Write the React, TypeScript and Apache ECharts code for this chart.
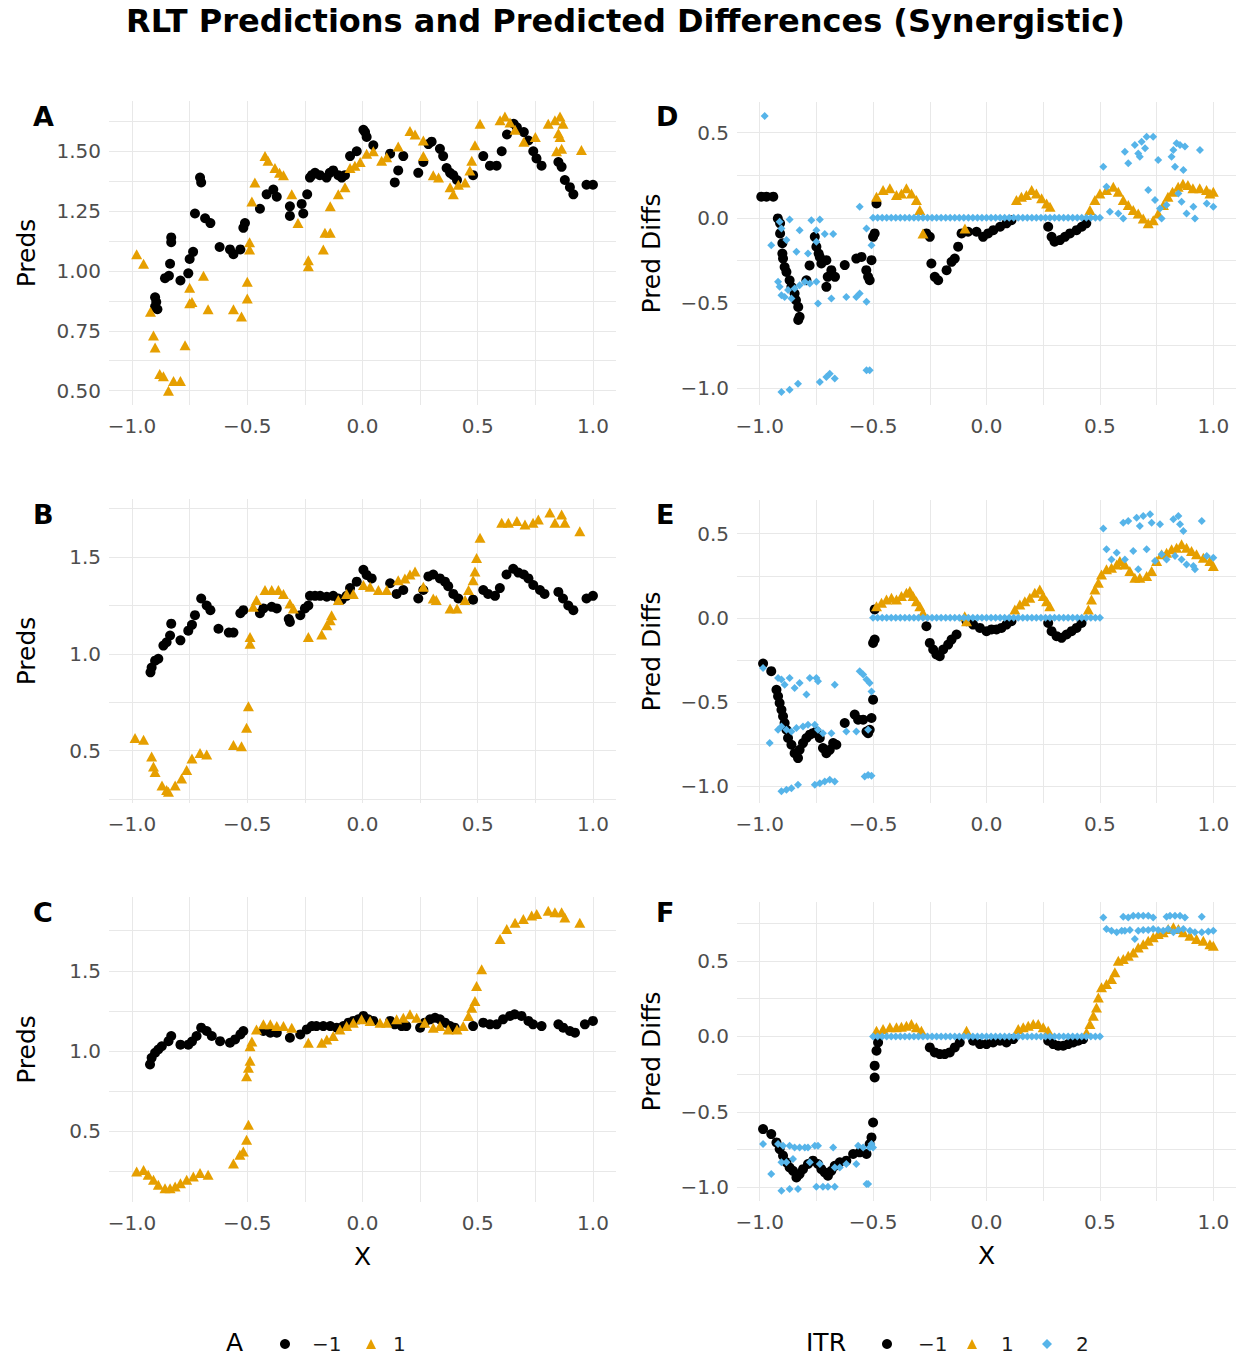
import React, { useEffect, useRef } from "react";
import * as echarts from "echarts";

const FONT = "DejaVu Sans";
const NEG = "\u22121";
const POS = "1";
const TWO = "2";
const BLACK = "#000000";
const ORANGE = "#E69F00";
const BLUE = "#56B4E9";

const xMajor = [-1, -0.5, 0, 0.5, 1];
const xGrid = [-1, -0.75, -0.5, -0.25, 0, 0.25, 0.5, 0.75, 1];
const yMajorA = [0.5, 0.75, 1, 1.25, 1.5];
const yGridA = [0.5, 0.625, 0.75, 0.875, 1, 1.125, 1.25, 1.375, 1.5, 1.625];
const yMajorBC = [0.5, 1, 1.5];
const yGridBC = [0.25, 0.5, 0.75, 1, 1.25, 1.5, 1.75];
const yMajorDiff = [-1, -0.5, 0, 0.5];
const yGridDE = [-1, -0.75, -0.5, -0.25, 0, 0.25, 0.5];
const yGridF = [-1, -0.75, -0.5, -0.25, 0, 0.25, 0.5, 0.75];

// points of ITR = 2 that sit exactly on zero between -0.5 and 0.5
const zeroX = [
  -0.5, -0.48, -0.46, -0.44, -0.42, -0.4, -0.38, -0.36, -0.34, -0.32, -0.3, -0.28, -0.26, -0.24, -0.22, -0.2, -0.18,
  -0.16, -0.14, -0.12, -0.1, -0.08, -0.06, -0.04, -0.02, 0, 0.02, 0.04, 0.06, 0.08, 0.1, 0.12, 0.14, 0.16, 0.18, 0.2,
  0.22, 0.24, 0.26, 0.28, 0.3, 0.32, 0.34, 0.36, 0.38, 0.4, 0.42, 0.44, 0.46, 0.48, 0.5,
];

// Panel A
const predA_neg = [
  [-0.9, 0.89], [-0.895, 0.87], [-0.9, 0.85], [-0.89, 0.84], [-0.857, 0.97], [-0.84, 0.98], [-0.835, 1.03], [-0.83, 1.14],
  [-0.83, 1.12], [-0.79, 0.96], [-0.756, 0.99], [-0.75, 1.05], [-0.735, 1.08], [-0.705, 1.39], [-0.7, 1.37], [-0.727, 1.24],
  [-0.683, 1.22], [-0.66, 1.2], [-0.62, 1.1], [-0.575, 1.09], [-0.56, 1.07], [-0.53, 1.09], [-0.517, 1.18], [-0.51, 1.2],
  [-0.445, 1.26], [-0.416, 1.32], [-0.387, 1.34], [-0.372, 1.31], [-0.315, 1.27], [-0.315, 1.23], [-0.264, 1.28],
  [-0.257, 1.24], [-0.24, 1.32], [-0.228, 1.39], [-0.22, 1.4], [-0.206, 1.41], [-0.185, 1.4], [-0.156, 1.39], [-0.142, 1.41],
  [-0.127, 1.42], [-0.105, 1.4], [-0.09, 1.39], [-0.076, 1.4], [-0.054, 1.48], [-0.025, 1.5], [0.004, 1.59], [0.011, 1.58],
  [0.018, 1.56], [0.047, 1.525], [0.12, 1.49], [0.14, 1.37], [0.155, 1.42], [0.177, 1.48], [0.242, 1.41], [0.264, 1.455],
  [0.286, 1.53], [0.3, 1.54], [0.336, 1.51], [0.35, 1.48], [0.365, 1.43], [0.38, 1.41], [0.394, 1.4], [0.41, 1.38],
  [0.48, 1.4], [0.524, 1.48], [0.553, 1.44], [0.582, 1.44], [0.604, 1.5], [0.627, 1.57], [0.656, 1.615], [0.67, 1.6],
  [0.7, 1.58], [0.72, 1.545], [0.741, 1.5], [0.755, 1.47], [0.777, 1.44], [0.85, 1.455], [0.864, 1.435], [0.878, 1.38],
  [0.9, 1.35], [0.915, 1.32], [0.972, 1.36], [1.0, 1.36],
];
const predA_pos = [
  [-0.98, 1.07], [-0.95, 1.03], [-0.92, 0.83], [-0.907, 0.73], [-0.9, 0.68], [-0.88, 0.57], [-0.864, 0.56], [-0.842, 0.5],
  [-0.82, 0.54], [-0.79, 0.54], [-0.77, 0.69], [-0.75, 0.93], [-0.74, 0.87], [-0.75, 0.865], [-0.69, 0.98], [-0.67, 0.84],
  [-0.56, 0.84], [-0.525, 0.81], [-0.5, 0.955], [-0.5, 0.885], [-0.49, 1.12], [-0.49, 1.09], [-0.48, 1.29], [-0.467, 1.37],
  [-0.423, 1.48], [-0.41, 1.46], [-0.38, 1.43], [-0.36, 1.41], [-0.343, 1.4], [-0.307, 1.32], [-0.28, 1.2], [-0.235, 1.045],
  [-0.235, 1.02], [-0.17, 1.09], [-0.163, 1.16], [-0.14, 1.16], [-0.14, 1.27], [-0.105, 1.32], [-0.076, 1.35], [-0.054, 1.43],
  [-0.033, 1.44], [-0.01, 1.455], [0.018, 1.49], [0.047, 1.5], [0.083, 1.46], [0.105, 1.475], [0.155, 1.52], [0.206, 1.585],
  [0.228, 1.57], [0.264, 1.545], [0.264, 1.48], [0.307, 1.4], [0.33, 1.39], [0.38, 1.35], [0.394, 1.32], [0.416, 1.36],
  [0.445, 1.37], [0.466, 1.42], [0.474, 1.46], [0.488, 1.525], [0.51, 1.615], [0.597, 1.63], [0.618, 1.645], [0.64, 1.62],
  [0.662, 1.59], [0.7, 1.54], [0.75, 1.56], [0.806, 1.615], [0.835, 1.63], [0.857, 1.645], [0.87, 1.615], [0.85, 1.575],
  [0.857, 1.56], [0.842, 1.5], [0.864, 1.51], [0.95, 1.505],
];

// Panel B
const predB_neg = [
  [-0.92, 0.905], [-0.915, 0.93], [-0.9, 0.965], [-0.886, 0.975], [-0.864, 1.043], [-0.85, 1.06], [-0.835, 1.095],
  [-0.83, 1.156], [-0.79, 1.07], [-0.756, 1.12], [-0.74, 1.15], [-0.727, 1.2], [-0.7, 1.286], [-0.676, 1.25], [-0.66, 1.226],
  [-0.625, 1.13], [-0.58, 1.11], [-0.56, 1.11], [-0.53, 1.21], [-0.517, 1.226], [-0.445, 1.21], [-0.43, 1.235],
  [-0.394, 1.243], [-0.372, 1.235], [-0.315, 1.165], [-0.32, 1.18], [-0.27, 1.2], [-0.25, 1.235], [-0.235, 1.25],
  [-0.228, 1.3], [-0.206, 1.3], [-0.184, 1.3], [-0.155, 1.295], [-0.127, 1.3], [-0.105, 1.286], [-0.09, 1.28], [-0.069, 1.3],
  [-0.054, 1.34], [-0.025, 1.373], [0.004, 1.434], [0.018, 1.408], [0.04, 1.39], [0.12, 1.365], [0.148, 1.31], [0.177, 1.33],
  [0.242, 1.286], [0.264, 1.33], [0.286, 1.4], [0.307, 1.41], [0.336, 1.39], [0.358, 1.373], [0.372, 1.35], [0.394, 1.31],
  [0.416, 1.286], [0.48, 1.28], [0.524, 1.33], [0.545, 1.31], [0.575, 1.3], [0.596, 1.34], [0.625, 1.41], [0.654, 1.44],
  [0.676, 1.42], [0.7, 1.41], [0.72, 1.39], [0.741, 1.356], [0.77, 1.33], [0.79, 1.31], [0.85, 1.32], [0.87, 1.286],
  [0.893, 1.25], [0.915, 1.226], [0.972, 1.286], [1.0, 1.3],
];
const predB_pos = [
  [-0.987, 0.566], [-0.95, 0.557], [-0.915, 0.47], [-0.907, 0.418], [-0.9, 0.39], [-0.87, 0.32], [-0.85, 0.297],
  [-0.842, 0.288], [-0.813, 0.32], [-0.785, 0.357], [-0.763, 0.4], [-0.74, 0.46], [-0.705, 0.488], [-0.676, 0.48],
  [-0.56, 0.53], [-0.525, 0.523], [-0.503, 0.618], [-0.495, 0.73], [-0.488, 1.087], [-0.488, 1.052], [-0.474, 1.243],
  [-0.46, 1.278], [-0.423, 1.33], [-0.394, 1.33], [-0.365, 1.33], [-0.343, 1.31], [-0.315, 1.26], [-0.3, 1.235],
  [-0.235, 1.087], [-0.177, 1.1], [-0.155, 1.148], [-0.14, 1.174], [-0.134, 1.2], [-0.105, 1.278], [-0.069, 1.31],
  [-0.04, 1.31], [0.004, 1.356], [0.033, 1.347], [0.069, 1.33], [0.105, 1.33], [0.155, 1.38], [0.184, 1.39], [0.206, 1.41],
  [0.228, 1.425], [0.264, 1.347], [0.307, 1.286], [0.32, 1.278], [0.38, 1.235], [0.41, 1.235], [0.445, 1.278], [0.46, 1.33],
  [0.48, 1.38], [0.488, 1.425], [0.495, 1.495], [0.51, 1.6], [0.604, 1.677], [0.633, 1.677], [0.67, 1.686], [0.705, 1.668],
  [0.74, 1.677], [0.763, 1.694], [0.813, 1.73], [0.835, 1.677], [0.864, 1.72], [0.878, 1.677], [0.943, 1.634],
];

// Panel C
const predC_neg = [
  [-0.922, 0.917], [-0.915, 0.958], [-0.9, 0.99], [-0.886, 1.01], [-0.871, 1.03], [-0.842, 1.062], [-0.83, 1.094],
  [-0.79, 1.04], [-0.756, 1.04], [-0.74, 1.06], [-0.72, 1.094], [-0.7, 1.146], [-0.676, 1.125], [-0.654, 1.094],
  [-0.618, 1.062], [-0.575, 1.052], [-0.553, 1.073], [-0.53, 1.104], [-0.517, 1.125], [-0.43, 1.125], [-0.4, 1.115],
  [-0.372, 1.115], [-0.315, 1.083], [-0.27, 1.104], [-0.242, 1.135], [-0.22, 1.156], [-0.2, 1.156], [-0.17, 1.156],
  [-0.14, 1.156], [-0.112, 1.146], [-0.083, 1.156], [-0.061, 1.177], [-0.04, 1.188], [-0.018, 1.198], [0.004, 1.219],
  [0.025, 1.198], [0.047, 1.188], [0.12, 1.188], [0.14, 1.167], [0.17, 1.156], [0.19, 1.156], [0.25, 1.146], [0.27, 1.177],
  [0.293, 1.198], [0.315, 1.208], [0.336, 1.198], [0.358, 1.177], [0.38, 1.156], [0.4, 1.146], [0.48, 1.156], [0.524, 1.177],
  [0.553, 1.167], [0.582, 1.167], [0.61, 1.198], [0.64, 1.219], [0.66, 1.229], [0.69, 1.219], [0.72, 1.188], [0.74, 1.167],
  [0.777, 1.156], [0.85, 1.167], [0.871, 1.146], [0.9, 1.125], [0.922, 1.115], [0.965, 1.167], [1.0, 1.188],
];
const predC_pos = [
  [-0.98, 0.25], [-0.95, 0.26], [-0.93, 0.229], [-0.907, 0.198], [-0.886, 0.167], [-0.857, 0.146], [-0.835, 0.146],
  [-0.813, 0.156], [-0.79, 0.177], [-0.763, 0.198], [-0.734, 0.219], [-0.705, 0.24], [-0.67, 0.229], [-0.56, 0.3],
  [-0.532, 0.354], [-0.517, 0.375], [-0.503, 0.448], [-0.495, 0.542], [-0.503, 0.844], [-0.495, 0.896], [-0.488, 0.94],
  [-0.488, 1.03], [-0.48, 1.06], [-0.46, 1.135], [-0.43, 1.167], [-0.4, 1.167], [-0.372, 1.156], [-0.343, 1.156],
  [-0.307, 1.146], [-0.235, 1.052], [-0.177, 1.052], [-0.155, 1.073], [-0.127, 1.094], [-0.098, 1.135], [-0.069, 1.156],
  [-0.04, 1.177], [-0.004, 1.198], [0.033, 1.188], [0.076, 1.177], [0.105, 1.177], [0.148, 1.198], [0.177, 1.208],
  [0.206, 1.229], [0.235, 1.208], [0.27, 1.177], [0.307, 1.146], [0.336, 1.156], [0.372, 1.135], [0.41, 1.135], [0.437, 1.156],
  [0.46, 1.219], [0.474, 1.27], [0.488, 1.3125], [0.495, 1.406], [0.517, 1.51], [0.597, 1.698], [0.626, 1.76], [0.662, 1.8],
  [0.698, 1.823], [0.734, 1.844], [0.756, 1.854], [0.806, 1.875], [0.835, 1.865], [0.864, 1.865], [0.878, 1.833], [0.943, 1.8],
];

// Panel D
const diffD_neg = [
  [-0.993, 0.124], [-0.97, 0.124], [-0.94, 0.124], [-0.92, -0.004], [-0.91, -0.033], [-0.91, -0.092], [-0.9, -0.15],
  [-0.9, -0.21], [-0.897, -0.24], [-0.89, -0.29], [-0.882, -0.318], [-0.868, -0.367], [-0.86, -0.406], [-0.846, -0.445],
  [-0.84, -0.484], [-0.83, -0.524], [-0.824, -0.582], [-0.83, -0.6], [-0.794, -0.367], [-0.78, -0.28], [-0.757, -0.112],
  [-0.75, -0.17], [-0.74, -0.21], [-0.735, -0.23], [-0.728, -0.269], [-0.706, -0.249], [-0.7, -0.347], [-0.706, -0.406],
  [-0.684, -0.308], [-0.668, -0.347], [-0.625, -0.278], [-0.574, -0.24], [-0.551, -0.23], [-0.53, -0.308], [-0.522, -0.347],
  [-0.515, -0.367], [-0.507, -0.249], [-0.5, -0.112], [-0.493, -0.092], [-0.485, 0.084], [-0.265, -0.092], [-0.25, -0.112],
  [-0.243, -0.269], [-0.228, -0.347], [-0.213, -0.367], [-0.176, -0.308], [-0.154, -0.259], [-0.14, -0.24], [-0.125, -0.17],
  [-0.11, -0.092], [-0.081, -0.082], [-0.044, -0.082], [-0.015, -0.112], [0.007, -0.092], [0.03, -0.073], [0.06, -0.053],
  [0.088, -0.033], [0.11, -0.014], [0.272, -0.053], [0.287, -0.112], [0.3, -0.141], [0.324, -0.131], [0.346, -0.112],
  [0.368, -0.092], [0.397, -0.073], [0.42, -0.053], [0.44, -0.033],
];
const diffD_pos = [
  [-0.485, 0.124], [-0.456, 0.163], [-0.426, 0.173], [-0.397, 0.133], [-0.375, 0.143], [-0.353, 0.173], [-0.331, 0.143],
  [-0.309, 0.104], [-0.294, 0.045], [-0.28, -0.092], [-0.095, -0.063], [0.132, 0.104], [0.154, 0.124], [0.176, 0.133],
  [0.199, 0.163], [0.22, 0.143], [0.243, 0.114], [0.265, 0.084], [0.28, 0.065], [0.456, 0.045], [0.478, 0.104], [0.5, 0.143],
  [0.529, 0.163], [0.559, 0.182], [0.581, 0.153], [0.603, 0.104], [0.625, 0.075], [0.647, 0.045], [0.669, 0.025],
  [0.691, -0.004], [0.713, -0.033], [0.735, -0.014], [0.757, 0.025], [0.78, 0.075], [0.8, 0.124], [0.82, 0.153],
  [0.845, 0.182], [0.866, 0.2], [0.888, 0.192], [0.91, 0.173], [0.94, 0.173], [0.97, 0.163], [0.985, 0.143], [1.0, 0.153],
];
const diffD_two = [
  [-0.978, 0.598], [-0.949, -0.161], [-0.912, -0.024], [-0.904, -0.063], [-0.882, -0.131], [-0.868, -0.01], [-0.824, -0.073],
  [-0.838, -0.2], [-0.787, -0.21], [-0.772, -0.014], [-0.735, -0.01], [-0.75, -0.073], [-0.75, -0.141], [-0.713, -0.096],
  [-0.676, -0.096], [-0.559, 0.065], [-0.529, -0.063], [-0.507, -0.161], [-0.919, -0.376], [-0.912, -0.406],
  [-0.904, -0.455], [-0.89, -0.465], [-0.875, -0.425], [-0.86, -0.475], [-0.846, -0.416], [-0.824, -0.396], [-0.801, -0.376],
  [-0.779, -0.386], [-0.75, -0.376], [-0.743, -0.504], [-0.684, -0.475], [-0.618, -0.465], [-0.574, -0.465], [-0.559, -0.445],
  [-0.529, -0.494], [-0.904, -1.024], [-0.868, -1.01], [-0.831, -0.975], [-0.735, -0.965], [-0.706, -0.935], [-0.691, -0.916],
  [-0.669, -0.945], [-0.529, -0.896], [-0.515, -0.896], [0.515, 0.3], [0.529, 0.182], [0.544, 0.035], [0.581, 0.025],
  [0.603, -0.004], [0.61, 0.388], [0.625, 0.32], [0.654, 0.427], [0.669, 0.378], [0.676, 0.359], [0.684, 0.447],
  [0.699, 0.408], [0.706, 0.476], [0.713, 0.163], [0.735, 0.476], [0.743, 0.104], [0.757, 0.339], [0.765, 0.055],
  [0.772, -0.004], [0.794, 0.075], [0.816, 0.359], [0.824, 0.398], [0.831, 0.3], [0.838, 0.437], [0.846, 0.143],
  [0.853, 0.427], [0.86, 0.094], [0.868, 0.28], [0.875, 0.418], [0.882, 0.025], [0.912, 0.065], [0.919, -0.004],
  [0.941, 0.398], [0.971, 0.084], [1.0, 0.065],
];

// Panel E
const diffE_neg = [
  [-0.985, -0.272], [-0.949, -0.317], [-0.926, -0.427], [-0.919, -0.466], [-0.912, -0.506], [-0.904, -0.546], [-0.897, -0.585],
  [-0.89, -0.625], [-0.882, -0.665], [-0.875, -0.714], [-0.86, -0.754], [-0.846, -0.804], [-0.831, -0.833], [-0.824, -0.784],
  [-0.809, -0.744], [-0.794, -0.714], [-0.779, -0.694], [-0.765, -0.685], [-0.75, -0.675], [-0.735, -0.714], [-0.721, -0.774],
  [-0.706, -0.804], [-0.691, -0.784], [-0.676, -0.744], [-0.662, -0.754], [-0.625, -0.625], [-0.581, -0.575], [-0.566, -0.605],
  [-0.544, -0.605], [-0.529, -0.675], [-0.522, -0.685], [-0.515, -0.665], [-0.507, -0.595], [-0.5, -0.486], [-0.5, -0.149],
  [-0.493, -0.129], [-0.493, 0.05], [-0.265, -0.05], [-0.25, -0.149], [-0.235, -0.188], [-0.221, -0.218], [-0.206, -0.228],
  [-0.191, -0.188], [-0.169, -0.159], [-0.154, -0.129], [-0.132, -0.099], [-0.088, -0.02], [-0.059, -0.04], [-0.029, -0.06],
  [0.0, -0.079], [0.022, -0.069], [0.044, -0.069], [0.066, -0.06], [0.088, -0.04], [0.11, -0.02], [0.272, -0.03],
  [0.287, -0.079], [0.309, -0.109], [0.331, -0.119], [0.353, -0.099], [0.375, -0.079], [0.397, -0.06], [0.419, -0.03],
];
const diffE_pos = [
  [-0.485, 0.069], [-0.463, 0.089], [-0.441, 0.109], [-0.419, 0.119], [-0.397, 0.109], [-0.375, 0.129], [-0.353, 0.149],
  [-0.338, 0.159], [-0.324, 0.129], [-0.309, 0.099], [-0.294, 0.069], [-0.28, 0.03], [-0.096, 0.01], [-0.088, -0.02],
  [0.125, 0.05], [0.147, 0.079], [0.169, 0.099], [0.191, 0.119], [0.213, 0.149], [0.235, 0.169], [0.25, 0.129],
  [0.265, 0.099], [0.279, 0.069], [0.449, 0.05], [0.463, 0.109], [0.478, 0.169], [0.493, 0.208], [0.507, 0.258],
  [0.529, 0.288], [0.551, 0.298], [0.574, 0.317], [0.588, 0.337], [0.61, 0.317], [0.632, 0.278], [0.654, 0.238],
  [0.676, 0.238], [0.706, 0.248], [0.728, 0.278], [0.75, 0.337], [0.772, 0.377], [0.794, 0.387], [0.816, 0.407],
  [0.838, 0.417], [0.86, 0.437], [0.882, 0.417], [0.904, 0.397], [0.926, 0.377], [0.956, 0.357], [0.985, 0.337], [1.0, 0.308],
];
const diffE_two = [
  [-0.985, -0.298], [-0.956, -0.744], [-0.919, -0.357], [-0.904, -0.367], [-0.89, -0.397], [-0.868, -0.357], [-0.846, -0.417],
  [-0.824, -0.387], [-0.794, -0.456], [-0.779, -0.357], [-0.75, -0.357], [-0.743, -0.377], [-0.669, -0.397], [-0.559, -0.317],
  [-0.544, -0.337], [-0.529, -0.367], [-0.515, -0.387], [-0.507, -0.437], [-0.919, -0.665], [-0.904, -0.645],
  [-0.882, -0.665], [-0.86, -0.675], [-0.838, -0.655], [-0.809, -0.645], [-0.787, -0.635], [-0.757, -0.635], [-0.743, -0.665],
  [-0.721, -0.685], [-0.684, -0.685], [-0.618, -0.675], [-0.574, -0.675], [-0.522, -0.665], [-0.904, -1.03], [-0.882, -1.022],
  [-0.86, -1.012], [-0.831, -0.992], [-0.757, -0.992], [-0.735, -0.982], [-0.713, -0.972], [-0.691, -0.962], [-0.669, -0.972],
  [-0.537, -0.942], [-0.522, -0.933], [-0.507, -0.938], [0.515, 0.53], [0.529, 0.407], [0.551, 0.347], [0.574, 0.387],
  [0.603, 0.565], [0.61, 0.347], [0.625, 0.575], [0.647, 0.397], [0.662, 0.595], [0.669, 0.288], [0.676, 0.546],
  [0.691, 0.605], [0.706, 0.407], [0.721, 0.615], [0.728, 0.565], [0.743, 0.337], [0.765, 0.556], [0.772, 0.377],
  [0.794, 0.347], [0.824, 0.585], [0.831, 0.367], [0.846, 0.605], [0.853, 0.556], [0.86, 0.347], [0.868, 0.516],
  [0.882, 0.317], [0.912, 0.308], [0.919, 0.288], [0.949, 0.575], [0.971, 0.367], [1.0, 0.357],
];

// Panel F
const diffF_neg = [
  [-0.985, -0.614], [-0.949, -0.647], [-0.926, -0.702], [-0.912, -0.746], [-0.897, -0.79], [-0.882, -0.834], [-0.868, -0.868],
  [-0.853, -0.89], [-0.838, -0.934], [-0.824, -0.912], [-0.809, -0.879], [-0.787, -0.845], [-0.765, -0.823], [-0.743, -0.845],
  [-0.728, -0.879], [-0.713, -0.901], [-0.699, -0.923], [-0.684, -0.89], [-0.669, -0.857], [-0.647, -0.834], [-0.618, -0.823],
  [-0.588, -0.779], [-0.559, -0.768], [-0.529, -0.779], [-0.515, -0.713], [-0.507, -0.669], [-0.5, -0.57], [-0.493, -0.272],
  [-0.493, -0.194], [-0.485, -0.095], [-0.478, -0.04], [-0.25, -0.073], [-0.228, -0.106], [-0.206, -0.117], [-0.184, -0.117],
  [-0.162, -0.106], [-0.14, -0.073], [-0.118, -0.04], [-0.059, -0.029], [-0.029, -0.051], [0.0, -0.051], [0.029, -0.04],
  [0.059, -0.029], [0.088, -0.04], [0.118, -0.018], [0.272, -0.029], [0.294, -0.051], [0.316, -0.062], [0.338, -0.062],
  [0.36, -0.051], [0.382, -0.04], [0.404, -0.029], [0.426, -0.018],
];
const diffF_pos = [
  [-0.485, 0.038], [-0.456, 0.049], [-0.426, 0.06], [-0.397, 0.06], [-0.375, 0.064], [-0.353, 0.071], [-0.331, 0.082],
  [-0.309, 0.06], [-0.287, 0.038], [-0.088, 0.038], [0.14, 0.049], [0.162, 0.06], [0.184, 0.071], [0.206, 0.082],
  [0.228, 0.082], [0.25, 0.06], [0.272, 0.038], [0.441, 0.026], [0.456, 0.082], [0.471, 0.137], [0.485, 0.192],
  [0.493, 0.258], [0.507, 0.325], [0.529, 0.347], [0.551, 0.38], [0.566, 0.424], [0.581, 0.501], [0.603, 0.512],
  [0.625, 0.534], [0.647, 0.556], [0.669, 0.589], [0.691, 0.611], [0.713, 0.634], [0.735, 0.656], [0.757, 0.678],
  [0.779, 0.689], [0.801, 0.711], [0.824, 0.722], [0.846, 0.711], [0.868, 0.689], [0.897, 0.667], [0.926, 0.645],
  [0.956, 0.634], [0.985, 0.611], [1.0, 0.6],
];
const diffF_two = [
  [-0.985, -0.713], [-0.949, -0.912], [-0.919, -0.713], [-0.904, -0.834], [-0.897, -0.724], [-0.882, -0.834], [-0.868, -0.724],
  [-0.853, -0.812], [-0.846, -0.735], [-0.824, -0.735], [-0.801, -0.735], [-0.787, -0.735], [-0.779, -0.834], [-0.757, -0.724],
  [-0.743, -0.724], [-0.735, -0.845], [-0.676, -0.735], [-0.669, -0.868], [-0.647, -0.868], [-0.618, -0.845], [-0.574, -0.845],
  [-0.566, -0.724], [-0.544, -0.735], [-0.529, -0.978], [-0.522, -0.978], [-0.515, -0.735], [-0.507, -0.713], [-0.5, -0.735],
  [-0.904, -1.022], [-0.868, -1.011], [-0.831, -1.011], [-0.75, -0.996], [-0.721, -0.996], [-0.699, -0.996], [-0.669, -0.996],
  [0.515, 0.788], [0.603, 0.793], [0.625, 0.788], [0.647, 0.799], [0.669, 0.799], [0.691, 0.799], [0.713, 0.799],
  [0.735, 0.788], [0.794, 0.793], [0.809, 0.799], [0.831, 0.799], [0.853, 0.799], [0.875, 0.788], [0.949, 0.793],
  [0.529, 0.711], [0.551, 0.7], [0.574, 0.689], [0.596, 0.7], [0.61, 0.7], [0.632, 0.704], [0.654, 0.645], [0.669, 0.7],
  [0.691, 0.704], [0.713, 0.704], [0.735, 0.711], [0.757, 0.704], [0.779, 0.7], [0.801, 0.711], [0.824, 0.689],
  [0.846, 0.704], [0.868, 0.711], [0.897, 0.7], [0.919, 0.689], [0.949, 0.689], [0.978, 0.695], [1.0, 0.7],
];

const fmt = (d: number) => (v: number) => (v < 0 ? "\u2212" : "") + Math.abs(v).toFixed(d);

const GRIDS = [
  { left: 109, top: 101, width: 507, height: 304 },
  { left: 109, top: 499, width: 507, height: 304 },
  { left: 109, top: 897, width: 507, height: 305 },
  { left: 737, top: 102, width: 499, height: 303 },
  { left: 737, top: 500, width: 499, height: 303 },
  { left: 737, top: 902, width: 499, height: 299 },
];

const Y_CFG = [
  { min: 0.44, max: 1.71, major: yMajorA, grid: yGridA, dec: 2, name: "Preds", gap: 70 },
  { min: 0.23, max: 1.8, major: yMajorBC, grid: yGridBC, dec: 1, name: "Preds", gap: 70 },
  { min: 0.06, max: 1.96, major: yMajorBC, grid: yGridBC, dec: 1, name: "Preds", gap: 70 },
  { min: -1.1, max: 0.68, major: yMajorDiff, grid: yGridDE, dec: 1, name: "Pred Diffs", gap: 73 },
  { min: -1.1, max: 0.7, major: yMajorDiff, grid: yGridDE, dec: 1, name: "Pred Diffs", gap: 73 },
  { min: -1.09, max: 0.89, major: yMajorDiff, grid: yGridF, dec: 1, name: "Pred Diffs", gap: 73 },
];

const SPLIT = { show: true, lineStyle: { color: "#e8e8e8", width: 1 } };
const TICK_LABEL = { color: "#4d4d4d", fontSize: 20, fontFamily: FONT };

function scatter(i: number, name: string, symbol: string, size: any, color: string, data: number[][]) {
  return {
    type: "scatter",
    name,
    xAxisIndex: i,
    yAxisIndex: i,
    symbol,
    symbolSize: size,
    itemStyle: { color, opacity: 1 },
    data,
    silent: true,
  };
}

function buildOption() {
  const xAxis = GRIDS.map((_, i) => ({
    type: "value",
    gridIndex: i,
    min: -1.1,
    max: 1.1,
    axisLine: { show: false },
    axisTick: { show: false, customValues: xGrid },
    splitLine: SPLIT,
    axisLabel: { ...TICK_LABEL, margin: 11, customValues: xMajor, formatter: fmt(1) },
    name: i === 2 || i === 5 ? "X" : "",
    nameLocation: "middle",
    nameGap: 42,
    nameTextStyle: { color: "#000", fontSize: 25, fontFamily: FONT },
  }));
  const yAxis = Y_CFG.map((c, i) => ({
    type: "value",
    gridIndex: i,
    min: c.min,
    max: c.max,
    axisLine: { show: false },
    axisTick: { show: false, customValues: c.grid },
    splitLine: SPLIT,
    axisLabel: { ...TICK_LABEL, margin: 8, customValues: c.major, formatter: fmt(c.dec) },
    name: c.name,
    nameLocation: "middle",
    nameGap: c.gap,
    nameRotate: 90,
    nameTextStyle: { color: "#000", fontSize: 25, fontFamily: FONT },
  }));

  const tri = [11, 10];
  const dot = 10;
  const dia = 8;
  const series = [
    scatter(0, NEG, "circle", dot, BLACK, predA_neg),
    scatter(0, POS, "triangle", tri, ORANGE, predA_pos),
    scatter(1, NEG, "circle", dot, BLACK, predB_neg),
    scatter(1, POS, "triangle", tri, ORANGE, predB_pos),
    scatter(2, NEG, "circle", dot, BLACK, predC_neg),
    scatter(2, POS, "triangle", tri, ORANGE, predC_pos),
    scatter(3, NEG, "circle", dot, BLACK, diffD_neg),
    scatter(3, POS, "triangle", tri, ORANGE, diffD_pos),
    scatter(3, TWO, "diamond", dia, BLUE, [...diffD_two, ...zeroX.map((x) => [x, 0])]),
    scatter(4, NEG, "circle", dot, BLACK, diffE_neg),
    scatter(4, POS, "triangle", tri, ORANGE, diffE_pos),
    scatter(4, TWO, "diamond", dia, BLUE, [...diffE_two, ...zeroX.map((x) => [x, 0])]),
    scatter(5, NEG, "circle", dot, BLACK, diffF_neg),
    scatter(5, POS, "triangle", tri, ORANGE, diffF_pos),
    scatter(5, TWO, "diamond", dia, BLUE, [...diffF_two, ...zeroX.map((x) => [x, 0])]),
  ];

  const letter = (text: string, left: number, top: number) => ({
    text,
    left,
    top,
    padding: 0,
    textStyle: { fontSize: 27, fontWeight: "bold", color: "#000", fontFamily: FONT },
  });
  const legendItem = (name: string, icon: string, left: number, pad: number) => ({
    data: [{ name, icon }],
    left,
    top: 1334,
    padding: 0,
    itemWidth: 10,
    itemHeight: 10,
    selectedMode: false,
    textStyle: { fontSize: 20, color: "#1a1a1a", fontFamily: FONT, padding: [0, 0, 0, pad] },
  });

  return {
    animation: false,
    backgroundColor: "#ffffff",
    title: [
      {
        text: "RLT Predictions and Predicted Differences (Synergistic)",
        left: "center",
        top: 5,
        padding: 0,
        textStyle: { fontSize: 32, fontWeight: "bold", color: "#000", fontFamily: FONT },
      },
      letter("A", 33, 103),
      letter("B", 33, 501),
      letter("C", 33, 899),
      letter("D", 656, 103),
      letter("E", 656, 501),
      letter("F", 656, 899),
      { text: "A", left: 226, top: 1330, padding: 0, textStyle: { fontSize: 25, fontWeight: "normal", color: "#000", fontFamily: FONT } },
      { text: "ITR", left: 806, top: 1330, padding: 0, textStyle: { fontSize: 25, fontWeight: "normal", color: "#000", fontFamily: FONT } },
    ],
    legend: [
      legendItem(NEG, "circle", 280, 17),
      legendItem(POS, "triangle", 366, 12),
      legendItem(NEG, "circle", 882, 21),
      legendItem(POS, "triangle", 967, 19),
      legendItem(TWO, "diamond", 1042, 19),
    ],
    grid: GRIDS,
    xAxis,
    yAxis,
    series,
  };
}

export default function App() {
  const ref = useRef<HTMLDivElement>(null);
  useEffect(() => {
    if (!ref.current) return;
    const chart = echarts.init(ref.current, undefined, { renderer: "svg" });
    chart.setOption(buildOption() as any);
    return () => chart.dispose();
  }, []);
  return (
    <div
      ref={ref}
      style={{ position: "absolute", left: 0, top: 0, width: 1251, height: 1359, background: "#fff" }}
    />
  );
}
